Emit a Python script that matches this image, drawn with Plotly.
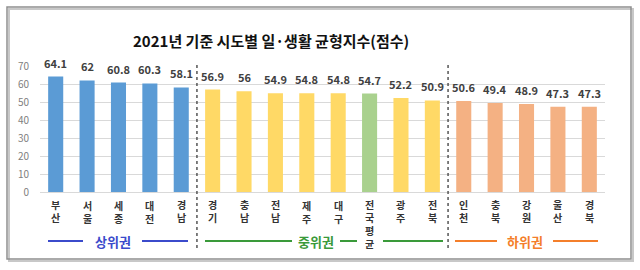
import plotly.graph_objects as go

# ---- data ----
regions = ["부산", "서울", "세종", "대전", "경남",
           "경기", "충남", "전남", "제주", "대구", "전국평균", "광주", "전북",
           "인천", "충북", "강원", "울산", "경북"]
scores = [64.1, 62, 60.8, 60.3, 58.1,
          56.9, 56, 54.9, 54.8, 54.8, 54.7, 52.2, 50.9,
          50.6, 49.4, 48.9, 47.3, 47.3]
tiers = ["상위권"] * 5 + ["중위권"] * 5 + ["평균"] + ["중위권"] * 2 + ["하위권"] * 5
tier_names = ["상위권", "중위권", "하위권"]
y_ticks = [0, 10, 20, 30, 40, 50, 60, 70]
title_text = "2021년 기준 시도별 일·생활 균형지수(점수)"

# ---- styles ----
bar_colors = {"상위권": "#5B9BD5", "중위권": "#FFD966", "평균": "#A9D18E", "하위권": "#F4B183"}
tier_line_colors = {"상위권": "#3B4BCB", "중위권": "#3A9A3A", "하위권": "#F47F2B"}
FONT = "Noto Sans CJK KR"
CAT_FONT = "DejaVu Sans, Noto Sans CJK KR"

W, H = 640, 270
PL, PR, PT, PB = 40, 605, 66, 192


def fx(px):
    return (px - PL) / (PR - PL)


def fy(py):
    return (PB - py) / (PB - PT)


fig = go.Figure()
fig.add_trace(go.Bar(
    x=regions, y=scores,
    marker=dict(color=[bar_colors[t] for t in tiers], line=dict(width=0)),
    width=0.48,
    hoverinfo="x+y",
))

annotations = []
# title
annotations.append(dict(x=fx(271), y=fy(40), xref="paper", yref="paper",
                        text="<b>" + title_text + "</b>", showarrow=False,
                        font=dict(family=FONT, size=15, color="#111111"),
                        xanchor="center", yanchor="middle"))
# value labels
for name, v in zip(regions, scores):
    annotations.append(dict(x=name, y=v, xref="x", yref="y",
                            text=f"<b>{v:g}</b>", showarrow=False,
                            font=dict(family=FONT, size=11, color="#404040"),
                            xanchor="center", yanchor="bottom", yshift=4))
# vertical category labels (one char per line)
for name in regions:
    annotations.append(dict(x=name, xref="x", y=fy(198), yref="paper",
                            text="<b>" + "<br>".join(list(name)) + "</b>", showarrow=False,
                            font=dict(family=CAT_FONT, size=10, color="#333333"),
                            xanchor="center", yanchor="top", valign="top"))

shapes = []
# group labels with lines
group_layout = {
    "상위권": (112.5, [(48, 83), (142, 188)]),
    "중위권": (316, [(205, 292), (340, 357), (383, 443)]),
    "하위권": (525, [(455, 497), (553, 598)]),
}
for t in tier_names:
    cx, segs = group_layout[t]
    col = tier_line_colors[t]
    annotations.append(dict(x=fx(cx), y=fy(241), xref="paper", yref="paper",
                            text="<b>" + t + "</b>", showarrow=False,
                            font=dict(family=FONT, size=13, color=col),
                            xanchor="center", yanchor="middle"))
    for a, b in segs:
        shapes.append(dict(type="line", xref="paper", yref="paper",
                           x0=fx(a), x1=fx(b), y0=fy(241), y1=fy(241),
                           line=dict(color=col, width=2)))

# dotted separators between groups
for xc in [4.5, 12.5]:
    shapes.append(dict(type="line", xref="x", yref="paper", x0=xc, x1=xc,
                       y0=fy(65), y1=fy(248),
                       line=dict(color="#555555", width=1.5, dash="dot")))

# frame with shadow
shapes.append(dict(type="rect", xref="paper", yref="paper",
                   x0=fx(9), x1=fx(633), y0=fy(9), y1=fy(261),
                   line=dict(color="#c8c8c8", width=2), layer="below"))
shapes.append(dict(type="rect", xref="paper", yref="paper",
                   x0=fx(7), x1=fx(631), y0=fy(7), y1=fy(259),
                   line=dict(color="#8f8f8f", width=1.5), fillcolor="rgba(0,0,0,0)", layer="below"))

fig.update_layout(
    width=W, height=H,
    margin=dict(l=PL, r=W - PR, t=PT, b=H - PB, pad=0),
    paper_bgcolor="white", plot_bgcolor="white",
    showlegend=False,
    bargap=0.52,
    annotations=annotations,
    shapes=shapes,
    xaxis=dict(showticklabels=False, showgrid=False, showline=True,
               linecolor="#d9d9d9", linewidth=1, ticks="",
               range=[-0.5, len(regions) - 0.5]),
    yaxis=dict(range=[0, 70], tickvals=y_ticks, showgrid=True,
               gridcolor="#d9d9d9", gridwidth=1, zeroline=False,
               showline=False, ticks="", ticklabelstandoff=10,
               tickfont=dict(family=FONT, size=10, color="#808080")),
)

fig.write_html("out.html")
